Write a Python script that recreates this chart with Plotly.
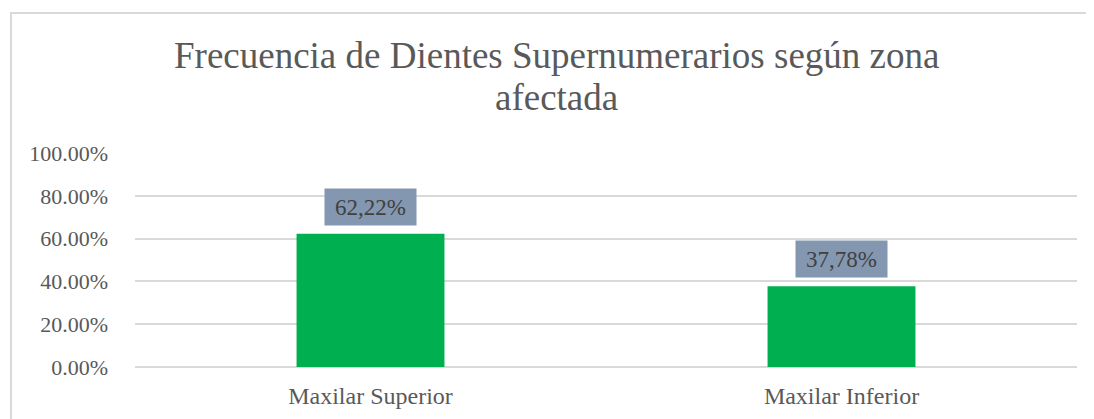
import plotly.graph_objects as go

categories = ["Maxilar Superior", "Maxilar Inferior"]
values = [0.6222, 0.3778]
value_labels = ["62,22%", "37,78%"]
tick_vals = [0, 0.2, 0.4, 0.6, 0.8, 1.0]
tick_text = ["0.00%", "20.00%", "40.00%", "60.00%", "80.00%", "100.00%"]
title_lines = ["Frecuencia de Dientes Supernumerarios según zona", "afectada"]

FONT = "Liberation Serif, Times New Roman, serif"

# page body adds an 8px offset; figure is sized to compensate
W, H = 1086, 411
L, R, T, B = 127, 17, 145, 52
PH = H - T - B
PW = W - L - R

fig = go.Figure()
fig.add_trace(go.Bar(
    x=categories, y=values, marker=dict(color="#00B050", line=dict(width=0)),
    width=0.314, hoverinfo="skip",
))

for c, v, t in zip(categories, values, value_labels):
    fig.add_annotation(
        x=c, y=v, xref="x", yref="y", text=t, showarrow=False,
        yanchor="bottom", yshift=8, bgcolor="#8497B0",
        width=91, height=36, borderpad=0,
        font=dict(family=FONT, size=23, color="#404040"),
    )

title_centers_px = [47, 89]
for line, ypx in zip(title_lines, title_centers_px):
    fig.add_annotation(
        x=(548 - L) / PW, y=(H - B - ypx) / PH, xref="paper", yref="paper",
        text=line, showarrow=False, xanchor="center", yanchor="middle",
        font=dict(family=FONT, size=37, color="#595959"),
    )

# chart border (outer frame)
fig.add_shape(type="rect", xref="paper", yref="paper",
              x0=(3 - L) / PW, x1=1.2, y0=-0.5, y1=(H - B - 5) / PH,
              line=dict(color="#D9D9D9", width=2), fillcolor="rgba(0,0,0,0)", layer="below")

fig.update_layout(
    width=W, height=H,
    margin=dict(l=L, r=R, t=T, b=B, autoexpand=False),
    paper_bgcolor="white", plot_bgcolor="white",
    showlegend=False,
    xaxis=dict(showgrid=False, showline=False, ticks="", ticklabelstandoff=12,
               automargin=False,
               tickfont=dict(family=FONT, size=24, color="#595959")),
    yaxis=dict(range=[0, 1], tickvals=tick_vals, ticktext=tick_text,
               showgrid=True, gridcolor="#D9D9D9", gridwidth=1.5,
               zeroline=True, zerolinecolor="#D9D9D9", zerolinewidth=1.5,
               showline=False, ticks="", ticklabelstandoff=26, automargin=False,
               tickfont=dict(family=FONT, size=22, color="#595959")),
)

fig.write_html("out.html")
